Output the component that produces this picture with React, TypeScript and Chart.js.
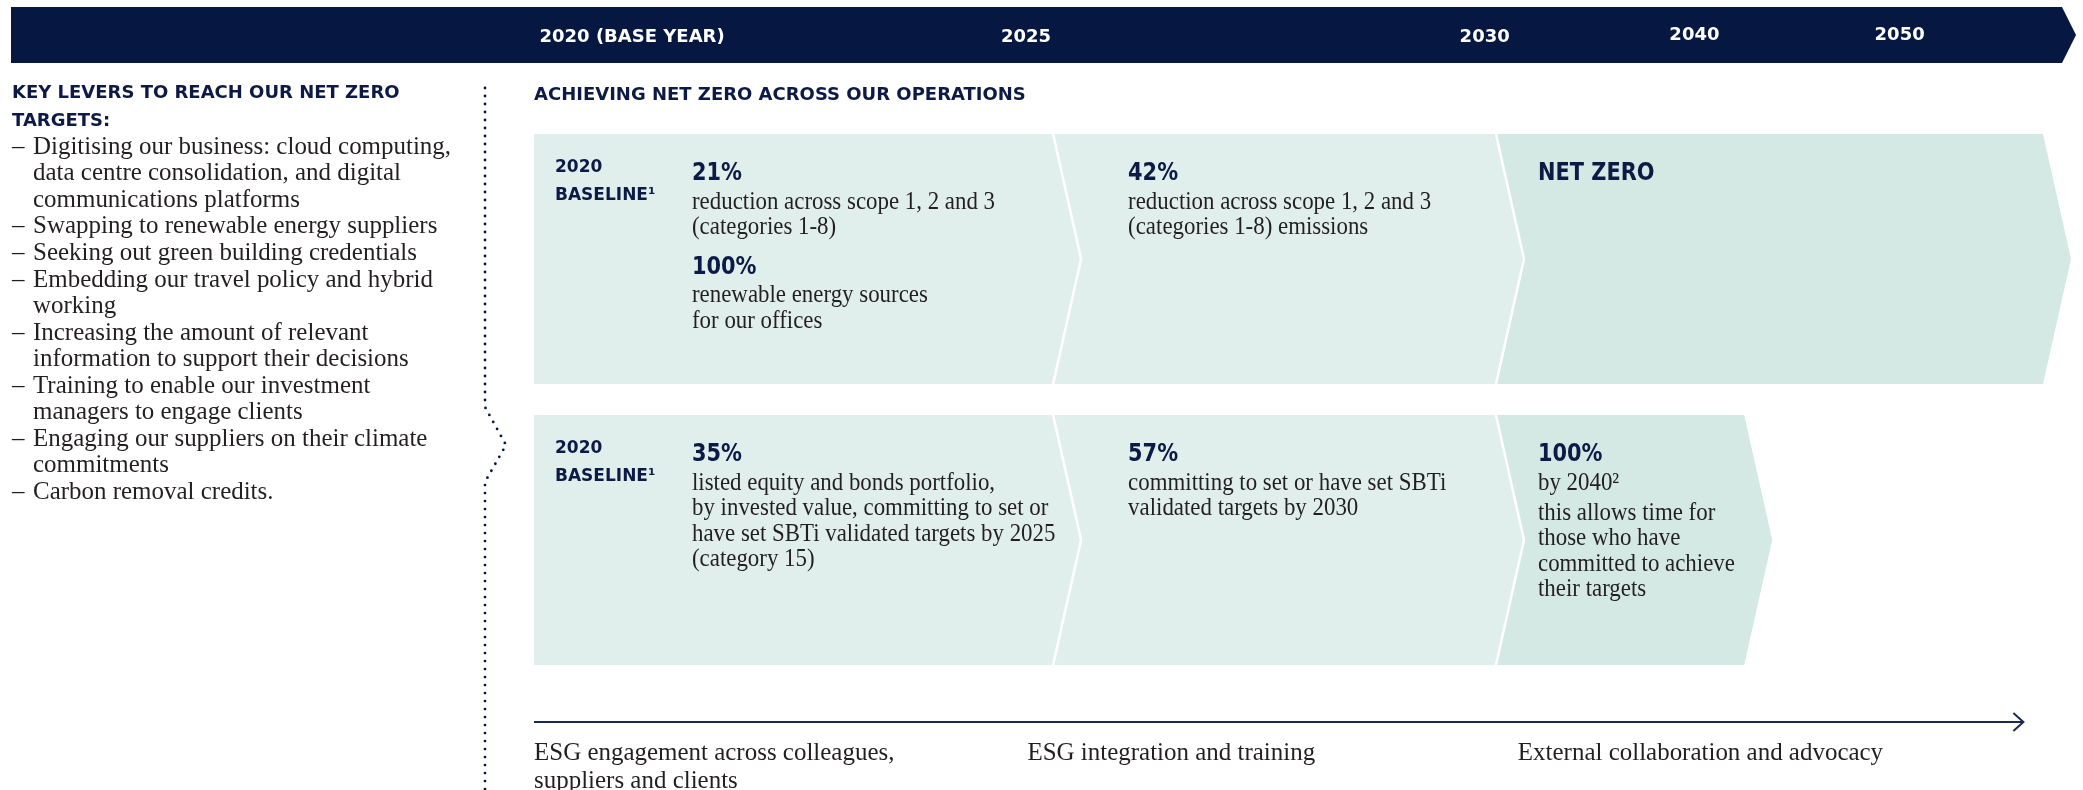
import React, { useEffect, useRef } from 'react';
import { Chart, registerables } from 'chart.js';

Chart.register(...registerables);

const W = 2083;
const H = 790;

// ---------- data ----------
const timelineYears = ['2020 (BASE YEAR)', '2025', '2030', '2040', '2050'];
const yearMarks = [6.5, 32.6, 63.0, 76.9, 90.5]; // position on timeline axis (0-100)

const rowLabels = ['Operations', 'Investments'];
const stageNames = ['2020-2025', '2025-2030', '2030 onwards'];
const stageStart = [0, 34.4, 63.75];
const operationsEnd = [34.4, 63.75, 100];
const investmentsEnd = [34.4, 63.75, 80.2];

const baselineLabel = ['2020', 'BASELINE\u00B9'];

type Block = { head?: string; lines: string[] };

const operationsText: Block[][] = [
  [
    { head: '21%', lines: ['reduction across scope 1, 2 and 3', '(categories 1-8)'] },
    { head: '100%', lines: ['renewable energy sources', 'for our offices'] },
  ],
  [{ head: '42%', lines: ['reduction across scope 1, 2 and 3', '(categories 1-8) emissions'] }],
  [{ head: 'NET ZERO', lines: [] }],
];

const investmentsText: Block[][] = [
  [
    {
      head: '35%',
      lines: [
        'listed equity and bonds portfolio,',
        'by invested value, committing to set or',
        'have set SBTi validated targets by 2025',
        '(category 15)',
      ],
    },
  ],
  [{ head: '57%', lines: ['committing to set or have set SBTi', 'validated targets by 2030'] }],
  [
    { head: '100%', lines: ['by 2040\u00B2'] },
    { lines: ['this allows time for', 'those who have', 'committed to achieve', 'their targets'] },
  ],
];

const leversTitle = ['KEY LEVERS TO REACH OUR NET ZERO', 'TARGETS:'];
const levers: string[][] = [
  ['Digitising our business: cloud computing,', 'data centre consolidation, and digital', 'communications platforms'],
  ['Swapping to renewable energy suppliers'],
  ['Seeking out green building credentials'],
  ['Embedding our travel policy and hybrid', 'working'],
  ['Increasing the amount of relevant', 'information to support their decisions'],
  ['Training to enable our investment', 'managers to engage clients'],
  ['Engaging our suppliers on their climate', 'commitments'],
  ['Carbon removal credits.'],
];

const sectionTitle = 'ACHIEVING NET ZERO ACROSS OUR OPERATIONS';

const engagementLabels: string[][] = [
  ['ESG engagement across colleagues,', 'suppliers and clients'],
  ['ESG integration and training'],
  ['External collaboration and advocacy'],
];
const engagementAt = [0, 32.7, 65.2];
const engagementArrowEnd = 98.7;

// ---------- styles ----------
const NAVY = '#061742';
const NAVY_TEXT = '#0c1a45';
const BODY_TEXT = '#231f20';
const STAGE_FILL = ['#e1efec', '#e1efec', '#d4e9e4'];
const BOLD = '"DejaVu Sans", sans-serif';
const SERIF = '"Liberation Serif", "DejaVu Serif", serif';
const CHEVRON = 28;
const TEXT_INSET = [158, 75, 42];

function textScaled(ctx: CanvasRenderingContext2D, t: string, x: number, y: number, sx: number) {
  ctx.save();
  ctx.translate(x, y);
  ctx.scale(sx, 1);
  ctx.fillText(t, 0, 0);
  ctx.restore();
}

function drawDots(ctx: CanvasRenderingContext2D, pts: number[][], step: number) {
  let carry = 0;
  ctx.fillStyle = NAVY;
  for (let i = 0; i < pts.length - 1; i++) {
    const [x0, y0] = pts[i];
    const [x1, y1] = pts[i + 1];
    const len = Math.hypot(x1 - x0, y1 - y0);
    let t = carry;
    while (t <= len) {
      const x = x0 + ((x1 - x0) * t) / len;
      const y = y0 + ((y1 - y0) * t) / len;
      ctx.beginPath();
      ctx.arc(x, y, 1.4, 0, Math.PI * 2);
      ctx.fill();
      t += step;
    }
    carry = t - len;
  }
}

const infographic = {
  id: 'infographic',
  beforeDatasetsDraw(chart: any) {
    const ctx: CanvasRenderingContext2D = chart.ctx;
    const boxes: any[] = [];
    chart.data.datasets.forEach((_ds: any, s: number) => {
      const meta = chart.getDatasetMeta(s);
      meta.data.forEach((bar: any, r: number) => {
        const { x, y, base, height } = bar.getProps(['x', 'y', 'base', 'height'], true);
        const left = Math.min(x, base);
        const right = Math.max(x, base);
        const top = y - height / 2;
        const bottom = y + height / 2;
        boxes.push({ s, r, left, right, top, bottom, mid: y });
        ctx.beginPath();
        ctx.moveTo(left, top);
        ctx.lineTo(right, top);
        ctx.lineTo(right + CHEVRON, y);
        ctx.lineTo(right, bottom);
        ctx.lineTo(left, bottom);
        if (s > 0) ctx.lineTo(left + CHEVRON, y);
        ctx.closePath();
        ctx.fillStyle = STAGE_FILL[s];
        ctx.fill();
      });
    });
    ctx.save();
    ctx.strokeStyle = '#ffffff';
    ctx.lineWidth = 2.5;
    boxes
      .filter((b) => b.s > 0)
      .forEach((b) => {
        ctx.beginPath();
        ctx.moveTo(b.left, b.top);
        ctx.lineTo(b.left + CHEVRON, b.mid);
        ctx.lineTo(b.left, b.bottom);
        ctx.stroke();
      });
    ctx.restore();
  },
  afterDatasetsDraw(chart: any) {
    const ctx: CanvasRenderingContext2D = chart.ctx;
    const content = [operationsText, investmentsText];
    ctx.save();
    ctx.textBaseline = 'middle';
    ctx.textAlign = 'left';
    chart.data.datasets.forEach((_ds: any, s: number) => {
      const meta = chart.getDatasetMeta(s);
      meta.data.forEach((bar: any, r: number) => {
        const { x, y, base, height } = bar.getProps(['x', 'y', 'base', 'height'], true);
        const left = Math.min(x, base);
        const top = y - height / 2;
        if (s === 0) {
          ctx.fillStyle = NAVY_TEXT;
          ctx.font = `bold 17px ${BOLD}`;
          ctx.fillText(baselineLabel[0], left + 21, top + 34);
          ctx.fillText(baselineLabel[1], left + 21, top + 62);
        }
        const tx = left + TEXT_INSET[s];
        let cy = top + 40;
        const blocks = content[r][s];
        blocks.forEach((block, bi) => {
          if (block.head) {
            ctx.fillStyle = NAVY_TEXT;
            ctx.font = `bold 24px ${BOLD}`;
            textScaled(ctx, block.head, tx, cy, 0.87);
            cy += 28;
          }
          ctx.fillStyle = BODY_TEXT;
          ctx.font = `25px ${SERIF}`;
          block.lines.forEach((ln) => {
            textScaled(ctx, ln, tx, cy, 0.915);
            cy += 25.5;
          });
          const next = blocks[bi + 1];
          cy += next && !next.head ? 4.5 : 14.5;
        });
      });
    });
    ctx.restore();
  },
  afterDraw(chart: any) {
    const ctx: CanvasRenderingContext2D = chart.ctx;
    const xs = chart.scales.x;
    ctx.save();
    // banner
    ctx.fillStyle = NAVY;
    ctx.beginPath();
    ctx.moveTo(11, 7);
    ctx.lineTo(2062, 7);
    ctx.lineTo(2076, 35);
    ctx.lineTo(2062, 63);
    ctx.lineTo(11, 63);
    ctx.closePath();
    ctx.fill();
    ctx.fillStyle = '#ffffff';
    ctx.font = `bold 18px ${BOLD}`;
    ctx.textAlign = 'center';
    ctx.textBaseline = 'middle';
    timelineYears.forEach((lab, i) => {
      ctx.fillText(lab, xs.getPixelForValue(yearMarks[i]), i >= 3 ? 35 : 37);
    });

    // left column
    ctx.textAlign = 'left';
    ctx.fillStyle = NAVY_TEXT;
    ctx.font = `bold 18px ${BOLD}`;
    leversTitle.forEach((t, i) => ctx.fillText(t, 12, 93 + i * 28));
    ctx.fillStyle = BODY_TEXT;
    ctx.font = `26px ${SERIF}`;
    let li = 0;
    levers.forEach((item) => {
      item.forEach((ln, k) => {
        const y = 147 + li * 26.54;
        if (k === 0) textScaled(ctx, '\u2013', 12, y, 0.96);
        textScaled(ctx, ln, 33, y, 0.96);
        li++;
      });
    });

    // dotted divider
    drawDots(ctx, [[485, 88], [485, 407], [506, 445], [485, 482], [485, 792]], 8);

    // section title
    ctx.fillStyle = NAVY_TEXT;
    ctx.font = `bold 18px ${BOLD}`;
    ctx.fillText(sectionTitle, xs.getPixelForValue(0), 95);

    // engagement arrow
    const ax0 = xs.getPixelForValue(0);
    const ax1 = xs.getPixelForValue(engagementArrowEnd);
    ctx.strokeStyle = '#1c2a50';
    ctx.lineWidth = 2;
    ctx.beginPath();
    ctx.moveTo(ax0, 722);
    ctx.lineTo(ax1, 722);
    ctx.stroke();
    ctx.beginPath();
    ctx.moveTo(ax1 - 10, 713);
    ctx.lineTo(ax1, 722);
    ctx.lineTo(ax1 - 10, 731);
    ctx.stroke();
    ctx.fillStyle = BODY_TEXT;
    ctx.font = `26px ${SERIF}`;
    engagementLabels.forEach((lines, i) => {
      const x = xs.getPixelForValue(engagementAt[i]);
      lines.forEach((ln, k) => textScaled(ctx, ln, x, 753 + k * 28, 0.96));
    });
    ctx.restore();
  },
};

export default function App() {
  const ref = useRef<HTMLCanvasElement>(null);
  useEffect(() => {
    document.body.style.margin = '0';
    document.body.style.overflow = 'hidden';
    const canvas = ref.current!;
    const chart = new Chart(canvas, {
      type: 'bar',
      data: {
        labels: rowLabels,
        datasets: stageNames.map((name, s) => ({
          label: name,
          data: [
            [stageStart[s], operationsEnd[s]],
            [stageStart[s], investmentsEnd[s]],
          ],
          backgroundColor: 'rgba(0,0,0,0)',
          borderWidth: 0,
          grouped: false,
          barThickness: 250,
        })),
      } as any,
      options: {
        indexAxis: 'y',
        responsive: false,
        animation: false,
        devicePixelRatio: 1,
        layout: { padding: { left: 534, right: 40, top: 118.5, bottom: 109.5 } },
        scales: {
          x: { type: 'linear', min: 0, max: 100, display: false },
          y: { type: 'category', display: false },
        },
        plugins: { legend: { display: false }, tooltip: { enabled: false } },
      } as any,
      plugins: [infographic as any],
    });
    return () => chart.destroy();
  }, []);
  return (
    <div style={{ width: W, height: H }}>
      <canvas ref={ref} width={W} height={H} style={{ display: 'block', width: W, height: H }} />
    </div>
  );
}
